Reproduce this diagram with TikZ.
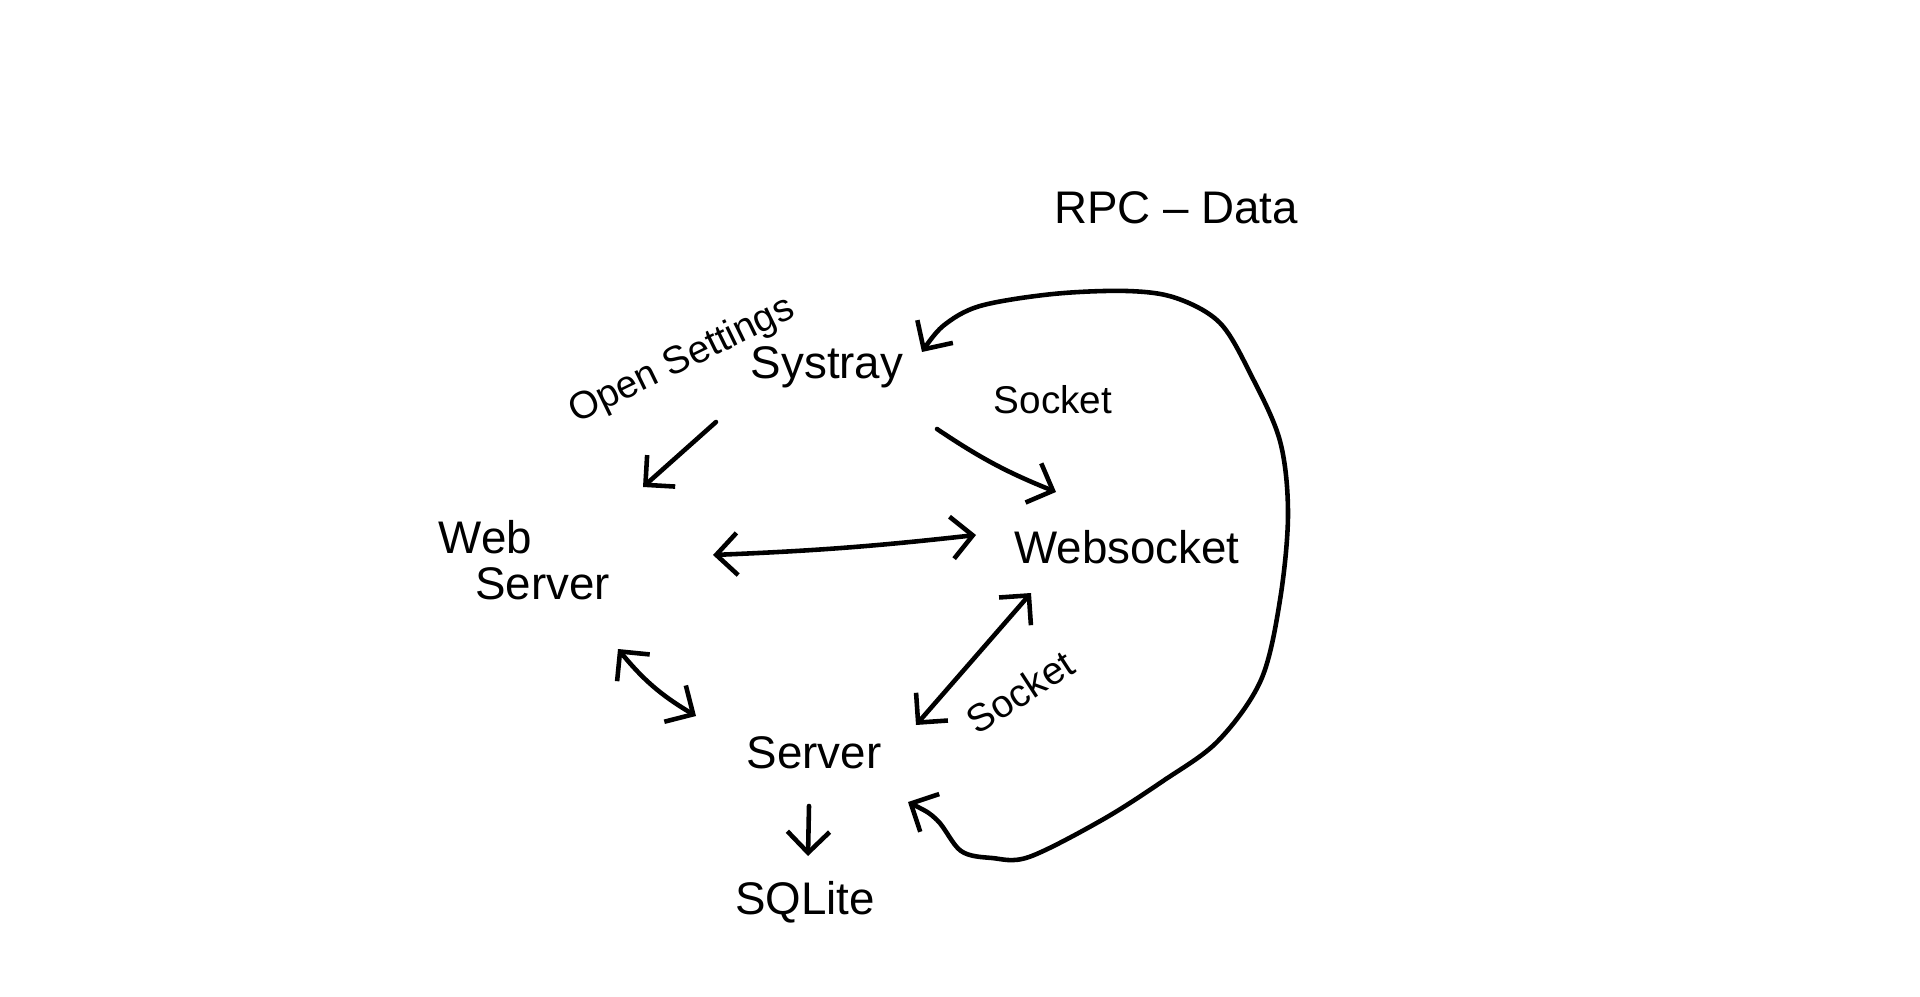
\documentclass[tikz,border=0pt]{standalone}
\usepackage{fontspec}
\setmainfont{Liberation Sans}
\usetikzlibrary{arrows.meta}
\tikzset{
  lbl/.style={inner sep=0pt, font=\fontsize{13pt}{15pt}\selectfont},
  small/.style={inner sep=0pt, font=\fontsize{11pt}{13pt}\selectfont},
  arr/.style={line width=1.3pt, line cap=round, line join=round,
    -{Straight Barb[length=6pt,width=12pt,line width=1.3pt]}},
  darr/.style={line width=1.3pt, line cap=round, line join=round,
    {Straight Barb[length=6pt,width=12pt,line width=1.3pt]}-{Straight Barb[length=6pt,width=12pt,line width=1.3pt]}}
}
\begin{document}
\begin{tikzpicture}[x=0.01cm,y=-0.01cm]
\useasboundingbox[fill=white] (0,0) rectangle (1920,997);
% labels
\node[lbl] (rpc) at (1176,208) {RPC -- Data};
\node[small, rotate=26] (open) at (682,361) {Open Settings};
\node[lbl] (systray) at (827,367) {Systray};
\node[small] (sock1) at (1053,400) {Socket};
\node[lbl, align=left, anchor=west] (web) at (438,560) {Web\\[-2pt]\hspace*{0.8em}Server};
\node[lbl] (websocket) at (1127,547) {Websocket};
\node[small, rotate=33] (sock2) at (1020,692) {Socket};
\node[lbl] (server) at (814,753) {Server};
\node[lbl] (sqlite) at (805,902) {SQLite};
% connector end points
\coordinate (a1) at (716,422); \coordinate (a2) at (643,487);
\coordinate (b1) at (937,429); \coordinate (b2) at (1056,492);
\coordinate (c1) at (713,555); \coordinate (c2) at (976,535);
\coordinate (d1) at (618,649); \coordinate (d2) at (696,716);
\coordinate (e1) at (916,725); \coordinate (e2) at (1031,593);
\coordinate (f1) at (809,806); \coordinate (f2) at (808,856);
\coordinate (g1) at (908,802); \coordinate (g2) at (922,352);
% connectors
\draw[arr] (a1) -- (a2);
\draw[arr] (b1) to[bend right=6] (b2);
\draw[darr] (c1) to[bend right=2] (c2);
\draw[darr] (d1) to[bend right=10] (d2);
\draw[darr] (e1) -- (e2);
\draw[arr] (f1) -- (f2);
\draw[darr] plot[smooth, tension=0.55] coordinates {(g1) (937,820) (961,851) (992,858) (1029,857) (1102,820) (1163,781) (1218,741) (1261,680) (1280,600) (1288,514) (1280,441) (1251,375) (1220,323) (1176,298) (1127,291) (1053,294) (980,306) (943,326) (g2)};
\end{tikzpicture}
\end{document}
